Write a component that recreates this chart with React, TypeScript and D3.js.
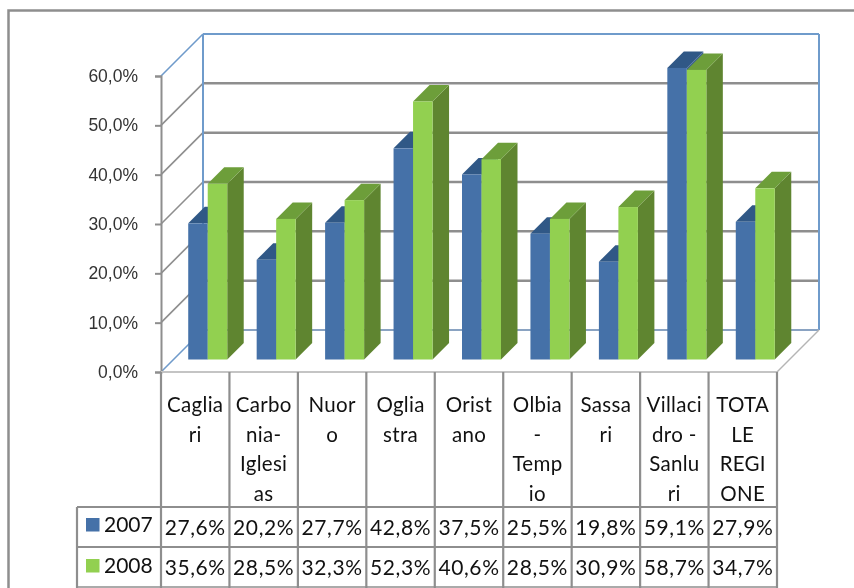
import React, { useEffect, useRef } from 'react';
import * as d3 from 'd3';

// Values from the data table under the chart
const categoryLines: string[][] = [
  ['Caglia', 'ri'],
  ['Carbo', 'nia-', 'Iglesi', 'as'],
  ['Nuor', 'o'],
  ['Oglia', 'stra'],
  ['Orist', 'ano'],
  ['Olbia', '-', 'Temp', 'io'],
  ['Sassa', 'ri'],
  ['Villaci', 'dro -', 'Sanlu', 'ri'],
  ['TOTA', 'LE', 'REGI', 'ONE'],
];
const seriesNames = ['2007', '2008'];
const values2007 = [27.6, 20.2, 27.7, 42.8, 37.5, 25.5, 19.8, 59.1, 27.9];
const values2008 = [35.6, 28.5, 32.3, 52.3, 40.6, 28.5, 30.9, 58.7, 34.7];
const yTicks = [0, 10, 20, 30, 40, 50, 60];

const seriesValues = [values2007, values2008];
const seriesColors = [
  { front: '#4571a8', top: '#305886', side: '#3b6290' },
  { front: '#92d050', top: '#6d9e3a', side: '#5f8530' },
];

const GRID = '#8e8e8e';
const WALL = '#6f9bcb';
const TEXT_FONT = 'Lato, sans-serif';

const fmt = (d: number) => d.toFixed(1).replace('.', ',') + '%';

const App: React.FC = () => {
  const svgRef = useRef<SVGSVGElement | null>(null);

  useEffect(() => {
    if (!svgRef.current) return;
    const svg = d3.select(svgRef.current);
    svg.selectAll('*').remove();

    // front plane of the 3D box, the back wall is shifted by `depth`
    const left = 161;
    const right = 777;
    const depth = 42;
    const barInset = 12.5;
    const barDepth = 16.5;

    const x = d3.scaleBand<number>()
      .domain(d3.range(categoryLines.length))
      .range([left, right]);
    const y = d3.scaleLinear().domain([0, 60]).range([372, 76]);
    const barBand = d3.scaleBand<number>()
      .domain([0, 1])
      .range([0, 39]);

    // outer frame
    svg.append('path')
      .attr('d', 'M8.5,588V10.5H854')
      .attr('fill', 'none')
      .attr('stroke', GRID)
      .attr('stroke-width', 2.5);

    // gridlines on back wall and side wall
    yTicks.forEach((t) => {
      const yy = y(t);
      const col = t === 60 || t === 0 ? WALL : GRID;
      if (t > 0) {
        svg.append('line')
          .attr('x1', left + depth).attr('x2', right + depth)
          .attr('y1', yy - depth).attr('y2', yy - depth)
          .attr('stroke', t === 60 ? WALL : GRID)
          .attr('stroke-width', t === 60 ? 2 : 2.5);
      }
      svg.append('line')
        .attr('x1', left).attr('x2', left + depth)
        .attr('y1', yy).attr('y2', yy - depth)
        .attr('stroke', col)
        .attr('stroke-width', 1.6);
    });

    // wall edges and floor
    svg.append('line')
      .attr('x1', left + depth).attr('x2', left + depth)
      .attr('y1', y(60) - depth).attr('y2', y(0) - depth)
      .attr('stroke', WALL).attr('stroke-width', 2);
    svg.append('line')
      .attr('x1', right + depth).attr('x2', right + depth)
      .attr('y1', y(60) - depth).attr('y2', y(0) - depth)
      .attr('stroke', WALL).attr('stroke-width', 2);
    svg.append('line')
      .attr('x1', left + depth).attr('x2', right + depth)
      .attr('y1', y(0) - depth).attr('y2', y(0) - depth)
      .attr('stroke', '#8aa3c2').attr('stroke-width', 2);
    svg.append('line')
      .attr('x1', right).attr('x2', right + depth)
      .attr('y1', y(0)).attr('y2', y(0) - depth)
      .attr('stroke', '#b5b5b5').attr('stroke-width', 1.5);

    // bars
    categoryLines.forEach((_, i) => {
      const gap = (x.bandwidth() - 39) / 2;
      seriesValues.forEach((vals, s) => {
        const x0 = (x(i) as number) + gap + barInset + (barBand(s) as number);
        const x1 = x0 + barBand.bandwidth();
        const base = y(0) - barInset;
        const top = y(vals[i]) - barInset;
        const c = seriesColors[s];
        const g = svg.append('g');
        g.append('path')
          .attr('d', `M${x1},${top}L${x1 + barDepth},${top - barDepth}V${base - barDepth}L${x1},${base}Z`)
          .attr('fill', c.side);
        g.append('path')
          .attr('d', `M${x0},${top}L${x0 + barDepth},${top - barDepth}H${x1 + barDepth}L${x1},${top}Z`)
          .attr('fill', c.top);
        g.append('rect')
          .attr('x', x0).attr('y', top)
          .attr('width', x1 - x0).attr('height', base - top)
          .attr('fill', c.front);
      });
    });

    // y axis
    const axis = svg.append('g')
      .attr('transform', `translate(${left},0)`)
      .call(d3.axisLeft(y).tickValues(yTicks).tickFormat((d) => fmt(d as number)).tickSize(6).tickPadding(17));
    axis.selectAll('path,line').attr('stroke', GRID).attr('stroke-width', 2);
    axis.selectAll('text')
      .attr('font-family', '"Liberation Sans", Arial, sans-serif')
      .attr('font-size', 17.5)
      .attr('fill', '#333');

    // data table
    const tableLines = [372, 507, 547, 587];
    const legendLeft = 77;
    tableLines.forEach((yy, i) => {
      svg.append('line')
        .attr('x1', i === 0 ? left : legendLeft).attr('x2', right)
        .attr('y1', yy).attr('y2', yy)
        .attr('stroke', i === 0 ? '#c4c4c4' : GRID)
        .attr('stroke-width', i === 3 ? 1.5 : 2.2);
    });
    d3.range(categoryLines.length + 1).forEach((i) => {
      const xx = i === categoryLines.length ? right : (x(i) as number);
      svg.append('line')
        .attr('x1', xx).attr('x2', xx)
        .attr('y1', 372).attr('y2', 588)
        .attr('stroke', GRID).attr('stroke-width', 2.2);
    });
    svg.append('line')
      .attr('x1', legendLeft).attr('x2', legendLeft)
      .attr('y1', 507).attr('y2', 588)
      .attr('stroke', GRID).attr('stroke-width', 2.2);

    categoryLines.forEach((lines, i) => {
      const cx = (x(i) as number) + x.bandwidth() / 2;
      lines.forEach((line, k) => {
        svg.append('text')
          .attr('x', cx)
          .attr('y', 412 + k * 29.5)
          .attr('text-anchor', 'middle')
          .attr('font-family', TEXT_FONT)
          .attr('font-size', 20.5)
          .attr('letter-spacing', 0.3)
          .attr('fill', '#111')
          .text(line);
      });
    });

    const rowBase = [535, 575];
    const legendBase = [532, 573];
    seriesNames.forEach((name, s) => {
      svg.append('rect')
        .attr('x', 86).attr('y', legendBase[s] - 14)
        .attr('width', 13.5).attr('height', 13.5)
        .attr('fill', seriesColors[s].front);
      svg.append('text')
        .attr('x', 104).attr('y', legendBase[s])
        .attr('font-family', TEXT_FONT)
        .attr('font-size', 21)
        .attr('fill', '#111')
        .text(name);
      seriesValues[s].forEach((v, i) => {
        svg.append('text')
          .attr('x', (x(i) as number) + x.bandwidth() / 2)
          .attr('y', rowBase[s])
          .attr('text-anchor', 'middle')
          .attr('font-family', TEXT_FONT)
          .attr('font-size', 21)
          .attr('letter-spacing', 0.6)
          .attr('fill', '#111')
          .text(fmt(v));
      });
    });
  }, []);

  return (
    <svg
      ref={svgRef}
      width={854}
      height={588}
      style={{ position: 'absolute', top: 0, left: 0, background: '#fff', display: 'block', filter: 'blur(0.35px)' }}
    />
  );
};

export default App;
